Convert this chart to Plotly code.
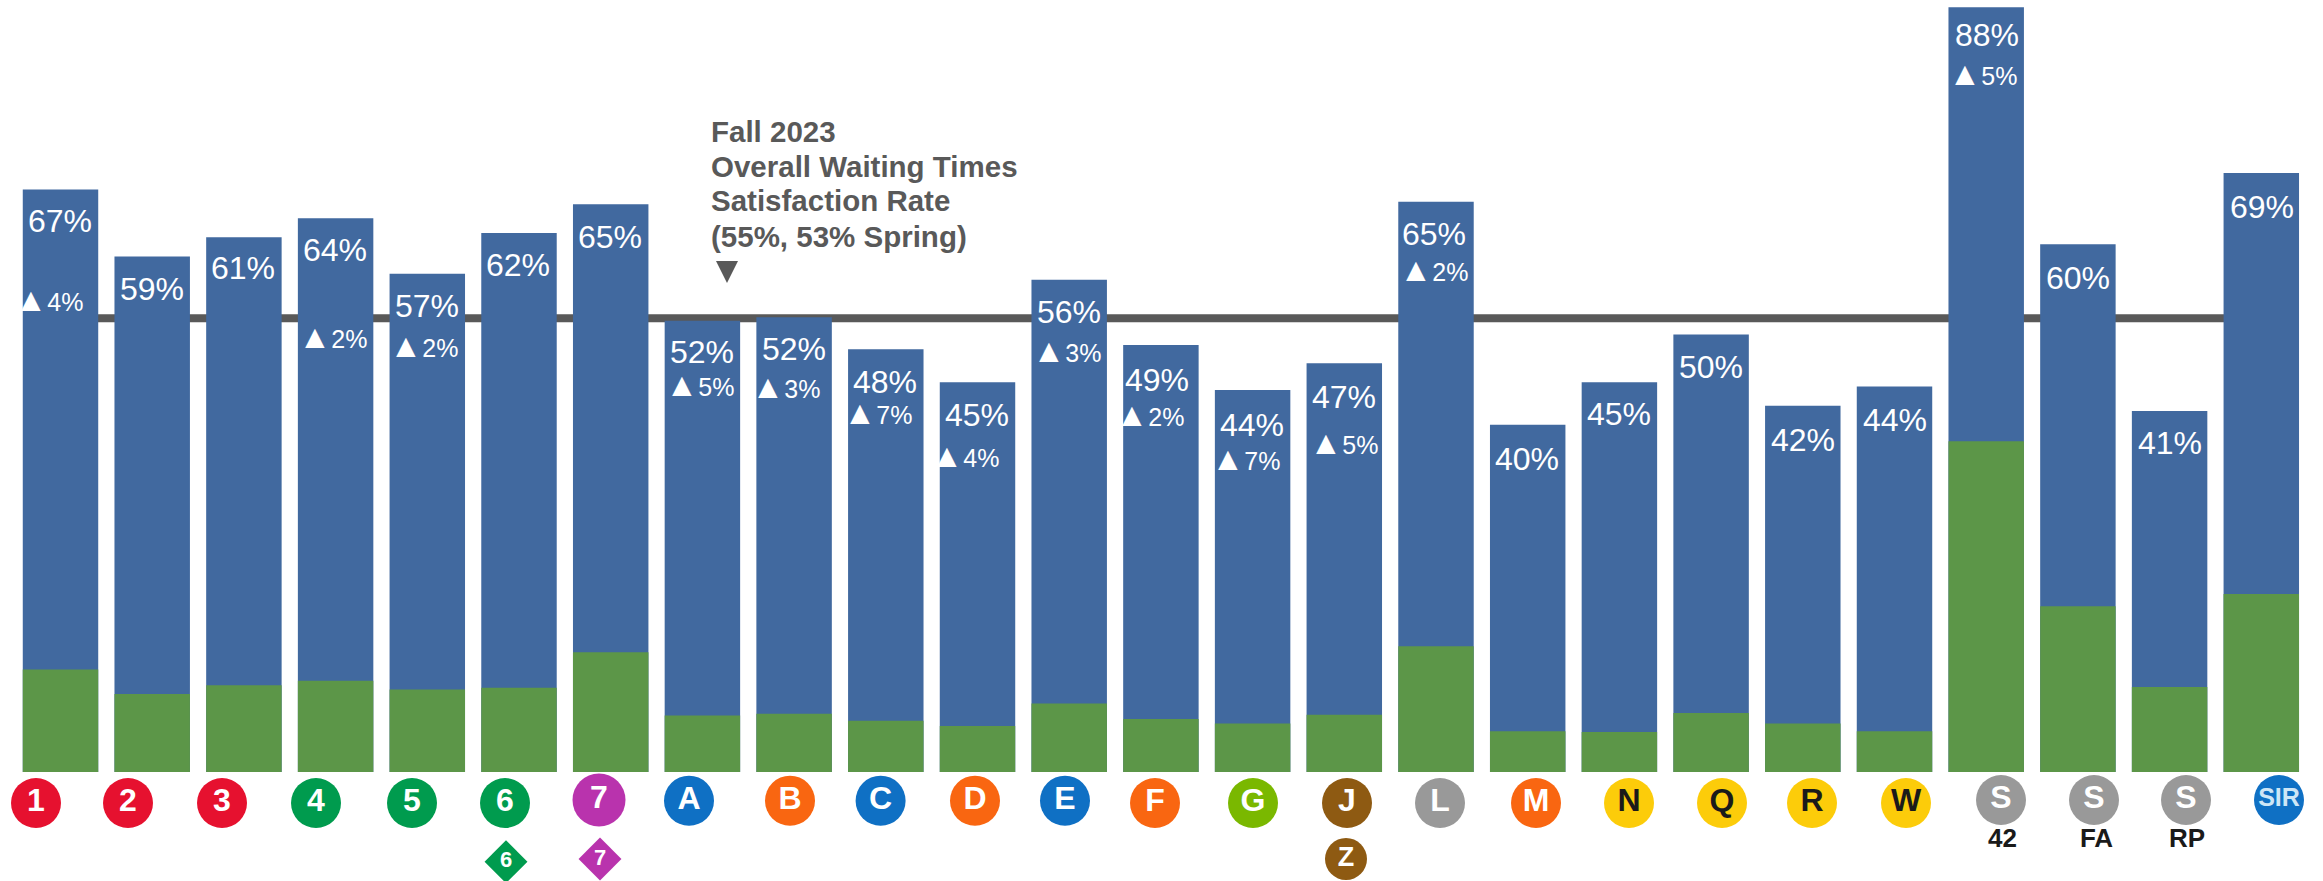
import plotly.graph_objects as go

# ---------- data ----------
lines = ["1","2","3","4","5","6","7","A","B","C","D","E","F","G","J","L","M","N","Q","R","W","S42","SFA","SRP","SIR"]
bar_totals = [67.1,59.4,61.6,63.8,57.4,62.1,65.4,52.0,52.4,48.7,44.9,56.7,49.2,44.0,47.1,65.7,40.0,44.9,50.4,42.2,44.4,88.1,60.8,41.6,69.0]
green_part = [11.8,9.0,10.0,10.5,9.5,9.7,13.8,6.5,6.7,5.9,5.3,7.9,6.1,5.6,6.6,14.5,4.7,4.6,6.8,5.6,4.7,38.1,19.1,9.8,20.5]
pct_labels = [67,59,61,64,57,62,65,52,52,48,45,56,49,44,47,65,40,45,50,42,44,88,60,41,69]
delta_lines = ["1","4","5","A","B","C","D","E","F","G","J","L","S42"]
delta_values = [4,2,2,5,3,7,4,3,2,7,5,2,5]
overall_rate = 52.27
note_lines = ["Fall 2023","Overall Waiting Times","Satisfaction Rate","(55%, 53% Spring)"]
badge_text = ["1","2","3","4","5","6","7","A","B","C","D","E","F","G","J","L","M","N","Q","R","W","S","S","S","SIR"]
shuttle_text = ["42","FA","RP"]

# ---------- styles and placement (pixels of the 2323x881 page) ----------
W, H = 2323, 881
X0_PX, STEP_PX, BASE_PX, PX_PER_PCT = 60.5, 91.7, 772.0, 8.68
BLUE, GREEN, GREY = "#41699F", "#5C9648", "#595959"
RED, LGREEN, PURPLE, MBLUE, ORANGE, LIME, BROWN, SILVER, YELLOW = (
    "#E6112F", "#009B4E", "#B933AD", "#0F70C4", "#F96611", "#7AB800", "#8E5A12", "#999999", "#FCCC0A")
badge_color = [RED,RED,RED,LGREEN,LGREEN,LGREEN,PURPLE,MBLUE,ORANGE,MBLUE,ORANGE,MBLUE,ORANGE,LIME,BROWN,SILVER,
               ORANGE,YELLOW,YELLOW,YELLOW,YELLOW,SILVER,SILVER,SILVER,MBLUE]
badge_x = [36,128,222,316,412,505,599,689,790,880.6,975,1065,1155,1253,1347,1440,1536,1629,1722,1812,1906,2001,2094,2186,2279]
badge_y = [803,803,803,803,803,803,800,800.7,800.7,800.7,800.7,800.7,803,803,803,803,803,803,803,803,803,800,800,800,800]
badge_size = [50]*6+[53]+[50]*18
badge_font = [32]*24+[25]
badge_font_color = ["#FFFFFF" if c != YELLOW else "#1A1A1A" for c in badge_color]
badge_font_color[-1] = "#CDE6F6"
label_x = [60,152,243,335,427,518,610,702,794,885,977,1069,1157,1252,1344,1434,1527,1619,1711,1803,1895,1987,2078,2170,2262]
label_y = [224,292,271,253,309,268,240,355,352,385,418,315,383,428,399.5,237,462,417,370,442.5,423,38,281,445.5,210]
delta_x = [49,333,424,700,786,878,965,1067,1150,1246,1344,1434,1983]
delta_y = [305,342,351,390,392,418,461,356,420,464,448,274.6,79]
note_y = [134.5,169.5,203.5,239.5]

x_pos = list(range(len(lines)))
fig = go.Figure()
fig.add_bar(x=x_pos, y=bar_totals, marker_color=BLUE, marker_line_width=0, name="Overall", width=0.823)
fig.add_bar(x=x_pos, y=green_part, marker_color=GREEN, marker_line_width=0, name="Very satisfied", width=0.823)

# labels
fig.add_scatter(x=label_x, y=label_y, xaxis="x2", yaxis="y2", mode="text",
                text=[f"{v}%" for v in pct_labels], textposition="middle center",
                textfont=dict(family="Liberation Sans", size=32, color="white"))
fig.add_scatter(x=delta_x, y=delta_y, xaxis="x2", yaxis="y2", mode="text",
                text=[f'<span style="font-size:33px">▲</span>{v}%' for v in delta_values], textposition="middle center",
                textfont=dict(family="Liberation Sans", size=25, color="white"))
# badges
fig.add_scatter(x=badge_x, y=badge_y, xaxis="x2", yaxis="y2", mode="markers+text", text=badge_text,
                textposition="middle center",
                marker=dict(size=badge_size, color=badge_color, line_width=0, opacity=1),
                textfont=dict(family="Liberation Sans", size=badge_font, color=badge_font_color, weight="bold"))
fig.add_scatter(x=[506,600], y=[861.7,859], xaxis="x2", yaxis="y2", mode="markers+text", text=["6","7"],
                textposition="middle center",
                marker=dict(size=33, symbol="diamond", color=[LGREEN,PURPLE], line_width=0, opacity=1),
                textfont=dict(family="Liberation Sans", size=22, color="#FFFFFF", weight="bold"))
fig.add_scatter(x=[1346], y=[859], xaxis="x2", yaxis="y2", mode="markers+text", text=["Z"],
                textposition="middle center",
                marker=dict(size=42, color=BROWN, line_width=0, opacity=1),
                textfont=dict(family="Liberation Sans", size=27, color="#FFFFFF", weight="bold"))
fig.add_scatter(x=[2002.5,2096.5,2187], y=[840.7]*3, xaxis="x2", yaxis="y2", mode="text", text=shuttle_text,
                textposition="middle center",
                textfont=dict(family="Liberation Sans", size=26, color="#1A1A1A", weight="bold"))
# note
fig.add_scatter(x=[711]*4, y=note_y, xaxis="x2", yaxis="y2", mode="text", text=[f"<b>{t}</b>" for t in note_lines],
                textposition="middle right",
                textfont=dict(family="Liberation Sans", size=29.5, color=GREY))

fig.add_shape(type="path", xref="x2", yref="y2", path="M716,261 L738,261 L727,283 Z",
              fillcolor=GREY, line_width=0, layer="above")
fig.add_shape(type="line", xref="x", yref="y", x0=0, x1=24, y0=overall_rate, y1=overall_rate,
              line=dict(color=GREY, width=8), layer="below")

fig.update_layout(
    width=W, height=H, margin=dict(l=0, r=0, t=0, b=0), barmode="overlay", showlegend=False,
    paper_bgcolor="white", plot_bgcolor="white",
    xaxis=dict(range=[-X0_PX/STEP_PX, (W-X0_PX)/STEP_PX], visible=False, fixedrange=True),
    yaxis=dict(range=[-(H-BASE_PX)/PX_PER_PCT, BASE_PX/PX_PER_PCT], visible=False, fixedrange=True),
    xaxis2=dict(range=[0, W], overlaying="x", visible=False, fixedrange=True),
    yaxis2=dict(range=[H, 0], overlaying="y", visible=False, fixedrange=True),
)
fig.update_traces(opacity=1, selector=dict(type="bar"))
fig.write_html("out.html", config={"displayModeBar": False},
               post_script="document.body.style.margin='0';document.body.style.overflow='hidden';")
